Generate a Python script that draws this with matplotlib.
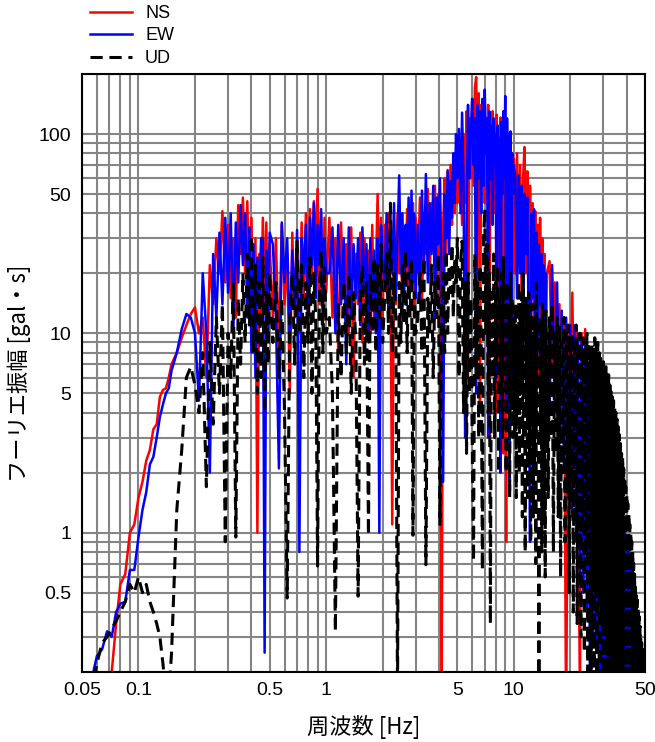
import matplotlib
matplotlib.use("Agg")
import matplotlib.pyplot as plt
from matplotlib.ticker import FixedLocator, NullFormatter

# frequency bands (Hz)
freq_low = [0.056, 0.06, 0.064, 0.068, 0.072, 0.076, 0.08, 0.085, 0.09, 0.095,
            0.1, 0.105, 0.11, 0.115, 0.12, 0.125, 0.13, 0.135, 0.14, 0.145,
            0.15, 0.16, 0.17, 0.18, 0.19, 0.2]
freq_b = [0.21, 0.22, 0.23, 0.24, 0.25, 0.26, 0.27, 0.28, 0.29, 0.30,
          0.31, 0.32, 0.33, 0.34, 0.35, 0.36, 0.37, 0.38, 0.39, 0.40,
          0.41, 0.42, 0.43, 0.44, 0.45, 0.46, 0.47, 0.48, 0.49, 0.50,
          0.52, 0.54, 0.56, 0.58, 0.60, 0.62, 0.64, 0.66, 0.68, 0.70,
          0.72, 0.74, 0.76, 0.78, 0.80, 0.82, 0.84, 0.86, 0.88, 0.90,
          0.92, 0.94, 0.96, 0.98, 1.00]
freq_c = [1.04, 1.08, 1.12, 1.16, 1.20, 1.24, 1.28, 1.32, 1.36, 1.40,
          1.44, 1.48, 1.52, 1.56, 1.60, 1.64, 1.68, 1.72, 1.76, 1.80,
          1.84, 1.88, 1.92, 1.96, 2.00,
          2.05, 2.10, 2.15, 2.20, 2.25, 2.30, 2.35, 2.40, 2.45, 2.50,
          2.55, 2.60, 2.65, 2.70, 2.75, 2.80, 2.85, 2.90, 2.95, 3.00,
          3.08, 3.16, 3.24, 3.32, 3.40, 3.48, 3.56, 3.64, 3.72, 3.80,
          3.88, 3.96, 4.04, 4.12, 4.20, 4.28, 4.36, 4.44, 4.52, 4.60,
          4.68, 4.76, 4.84, 4.92, 5.00]
freq_d1 = [5.1, 5.2, 5.3, 5.4, 5.5, 5.6, 5.7, 5.8, 5.9, 6.0,
           6.1, 6.2, 6.3, 6.4, 6.5, 6.6, 6.7, 6.8, 6.9, 7.0,
           7.1, 7.2, 7.3, 7.4, 7.5, 7.6, 7.7, 7.8, 7.9, 8.0,
           8.1, 8.2, 8.3, 8.4, 8.5, 8.6, 8.7, 8.8, 8.9, 9.0,
           9.1, 9.2, 9.3, 9.4, 9.5, 9.6, 9.7, 9.8, 9.9, 10.0]
freq_d2 = [10.2, 10.4, 10.6, 10.8, 11.0, 11.2, 11.4, 11.6, 11.8, 12.0,
           12.2, 12.4, 12.6, 12.8, 13.0, 13.2, 13.4, 13.6, 13.8, 14.0,
           14.2, 14.4, 14.6, 14.8, 15.0]
freq_e = [15.5, 16.0, 16.5, 17.0, 17.5, 18.0, 18.5, 19.0, 19.5, 20.0,
          20.5, 21.0, 21.5, 22.0, 22.5, 23.0, 23.5, 24.0, 24.5, 25.0,
          25.5, 26.0, 26.5, 27.0, 27.5, 28.0, 28.5, 29.0, 29.5, 30.0,
          30.5, 31.0, 31.5, 32.0, 32.5, 33.0, 33.5, 34.0, 34.5, 35.0,
          35.5, 36.0, 36.5, 37.0, 37.5, 38.0, 38.5, 39.0, 39.5, 40.0,
          40.5, 41.0, 41.5, 42.0, 42.5, 43.0, 43.5, 44.0, 44.5, 45.0,
          45.5, 46.0, 46.5, 47.0, 47.5, 48.0, 48.5, 49.0, 49.5, 50.0]
# finer sampling used for the UD record above 10 Hz
freq_d2_ud = [10.1, 10.2, 10.3, 10.4, 10.5, 10.6, 10.7, 10.8, 10.9, 11.0,
              11.1, 11.2, 11.3, 11.4, 11.5, 11.6, 11.7, 11.8, 11.9, 12.0,
              12.1, 12.2, 12.3, 12.4, 12.5, 12.6, 12.7, 12.8, 12.9, 13.0,
              13.1, 13.2, 13.3, 13.4, 13.5, 13.6, 13.7, 13.8, 13.9, 14.0,
              14.1, 14.2, 14.3, 14.4, 14.5, 14.6, 14.7, 14.8, 14.9, 15.0]
freq_e_ud = [15.25, 15.5, 15.75, 16.0, 16.25, 16.5, 16.75, 17.0, 17.25, 17.5,
             17.75, 18.0, 18.25, 18.5, 18.75, 19.0, 19.25, 19.5, 19.75, 20.0,
             20.25, 20.5, 20.75, 21.0, 21.25, 21.5, 21.75, 22.0, 22.25, 22.5,
             22.75, 23.0, 23.25, 23.5, 23.75, 24.0, 24.25, 24.5, 24.75, 25.0,
             25.25, 25.5, 25.75, 26.0, 26.25, 26.5, 26.75, 27.0, 27.25, 27.5,
             27.75, 28.0, 28.25, 28.5, 28.75, 29.0, 29.25, 29.5, 29.75, 30.0,
             30.25, 30.5, 30.75, 31.0, 31.25, 31.5, 31.75, 32.0, 32.25, 32.5,
             32.75, 33.0, 33.25, 33.5, 33.75, 34.0, 34.25, 34.5, 34.75, 35.0,
             35.25, 35.5, 35.75, 36.0, 36.25, 36.5, 36.75, 37.0, 37.25, 37.5,
             37.75, 38.0, 38.25, 38.5, 38.75, 39.0, 39.25, 39.5, 39.75, 40.0,
             40.25, 40.5, 40.75, 41.0, 41.25, 41.5, 41.75, 42.0, 42.25, 42.5,
             42.75, 43.0, 43.25, 43.5, 43.75, 44.0, 44.25, 44.5, 44.75, 45.0,
             45.25, 45.5, 45.75, 46.0, 46.25, 46.5, 46.75, 47.0, 47.25, 47.5,
             47.75, 48.0, 48.25, 48.5, 48.75, 49.0, 49.25, 49.5, 49.75, 50.0]

# NS component (gal*s)
ns_low = [0.1, 0.1, 0.12, 0.15, 0.2, 0.35, 0.55, 0.62, 1.0, 1.1,
          1.5, 1.8, 2.3, 2.6, 3.3, 3.5, 4.8, 5.2, 5.3, 6.0,
          7.0, 8.0, 9.5, 11.0, 12.5, 13.5]
ns_b = [10, 12, 6, 22, 14, 30, 20, 41, 18, 35,
        15, 30, 12, 44, 25, 48, 20, 46, 15, 38,
        8, 30, 1.0, 25, 12, 38, 14, 36, 10, 28,
        12, 30, 8, 35, 14, 25, 5, 32, 12, 30,
        10, 36, 15, 40, 10, 42, 18, 46, 25, 53,
        14, 40, 10, 38, 16]
ns_c = [38, 12, 30, 8, 36, 15, 28, 10, 34, 6,
        25, 14, 32, 9, 30, 12, 26, 10, 35, 11,
        20, 50, 15, 38, 12,
        35, 16, 40, 18, 1.1, 30, 14, 40, 20, 36,
        12, 30, 18, 42, 15, 35, 20, 45, 12, 38,
        20, 48, 14, 40, 25, 53, 18, 45, 30, 55,
        15, 50, 22, 0.1, 35, 60, 25, 66, 30, 70,
        35, 60, 40, 75, 45]
ns_d1 = [50, 90, 35, 100, 45, 130, 6, 120, 60, 150,
         55, 170, 193, 80, 160, 4, 140, 70, 130, 45,
         120, 60, 140, 3, 110, 55, 130, 40, 100, 60,
         125, 4, 110, 50, 121, 45, 100, 2.5, 95, 40,
         0.9, 90, 35, 100, 3, 85, 40, 80, 20, 75]
ns_d2 = [20, 80, 25, 70, 15, 60, 86, 20, 65, 12,
         55, 18, 45, 8, 41, 14, 35, 6, 38, 10,
         30, 5, 25, 9, 20]
ns_e = [23, 6, 18, 4, 14, 3, 12, 0.1, 11, 5,
        16, 3, 11, 2, 0.15, 10, 2, 10.5, 1.5, 7,
        1, 6, 0.8, 5.5, 0.6, 5, 0.5, 4.5, 0.4, 4,
        0.35, 3.6, 0.3, 3.2, 0.25, 2.8, 0.2, 2.6, 0.2, 2.2,
        0.15, 1.9, 0.15, 1.6, 0.12, 1.4, 0.12, 1.2, 0.1, 0.95,
        0.1, 0.8, 0.1, 0.65, 0.1, 0.5, 0.1, 0.42, 0.1, 0.34,
        0.1, 0.28, 0.1, 0.24, 0.1, 0.2, 0.1, 0.18, 0.1, 0.16]

# EW component
ew_low = [0.18, 0.24, 0.26, 0.32, 0.3, 0.4, 0.44, 0.45, 0.65, 0.65,
          0.95, 1.3, 1.6, 2.2, 2.4, 3.0, 3.8, 4.4, 5.0, 5.3,
          6.5, 8.0, 10.5, 12.5, 12.0, 10.0]
ew_b = [4.6, 20, 10, 2.0, 25, 12, 32, 14, 38, 16,
        40, 10, 36, 18, 44, 22, 40, 12, 34, 8,
        28, 6, 24, 14, 30, 30, 0.25, 26, 10, 32,
        28, 12, 2.1, 36, 18, 30, 9, 26, 14, 33,
        0.8, 30, 20, 35, 12, 38, 22, 45, 15, 35,
        22, 42, 12, 30, 20]
ew_c = [20, 34, 10, 35, 14, 30, 7, 34, 12, 28,
        15, 30, 11, 34, 16, 28, 9, 30, 14, 26,
        10, 30, 1.0, 35, 22,
        18, 40, 12, 35, 20, 45, 15, 30, 62, 20,
        40, 14, 35, 22, 48, 16, 52, 18, 40, 15,
        35, 15, 52, 20, 63, 18, 45, 25, 55, 12,
        48, 28, 60, 20, 1.8, 50, 30, 65, 25, 58,
        38, 80, 45, 100, 60]
ew_d1 = [106, 40, 128, 55, 3, 35, 140, 60, 100, 150,
         70, 120, 5, 140, 60, 130, 40, 150, 55, 167,
         80, 120, 3, 130, 60, 110, 35, 120, 70, 100,
         6, 110, 60, 95, 2, 115, 50, 130, 60, 155,
         4, 120, 55, 100, 1.8, 103, 5, 80, 50, 70]
ew_d2 = [60, 15, 62, 20, 55, 8, 50, 25, 48, 10,
         0.9, 40, 15, 42, 12, 32, 8, 28, 14, 25,
         6, 22, 10, 20, 4]
ew_e = [4, 22, 5, 18, 3, 13, 2, 12, 1.5, 11,
        1.2, 11, 0.9, 10, 0.6, 9.5, 0.5, 9, 0.4, 7,
        0.1, 6, 0.3, 5.5, 0.25, 5, 0.1, 4.5, 0.2, 4,
        0.2, 3.6, 0.15, 3.2, 0.15, 2.8, 0.12, 2.5, 0.12, 2.2,
        0.1, 1.9, 0.1, 1.6, 0.1, 1.4, 0.1, 1.2, 0.1, 0.95,
        0.1, 0.8, 0.1, 0.65, 0.1, 0.52, 0.1, 0.42, 0.1, 0.35,
        0.1, 0.29, 0.1, 0.24, 0.1, 0.2, 0.1, 0.18, 0.1, 0.16]

# UD component
ud_low = [0.15, 0.22, 0.28, 0.3, 0.33, 0.36, 0.4, 0.45, 0.55, 0.5,
          0.6, 0.5, 0.55, 0.45, 0.4, 0.35, 0.3, 0.22, 0.15, 0.15,
          0.25, 1.3, 2.6, 6.0, 6.8, 5.5]
ud_b = [4, 8, 1.7, 9, 3.5, 12, 5, 14, 0.9, 10,
        6, 18, 0.95, 15, 7, 20, 9, 25, 11, 31,
        8, 22, 5, 18, 6, 24, 4, 16, 7, 20,
        9, 18, 6, 15, 4, 0.47, 12, 20, 7, 29,
        10, 22, 6, 18, 9, 24, 5, 20, 12, 0.68,
        15, 26, 8, 22, 10]
ud_c = [12, 5, 0.32, 14, 6, 18, 8, 20, 5, 16,
        9, 0.48, 15, 22, 7, 18, 0.97, 20, 10, 24,
        8, 22, 12, 28, 9,
        15, 25, 10, 45, 8, 20, 12, 0.15, 18, 9,
        22, 11, 26, 8, 20, 12, 24, 0.97, 16, 10,
        12, 20, 8, 24, 0.69, 15, 10, 22, 6, 18,
        12, 25, 1.1, 14, 20, 8, 26, 10, 22, 16,
        28, 12, 24, 18, 30]
ud_d1 = [6, 22, 29, 4, 18, 2.5, 20, 5, 15, 3,
         0.72, 25, 6, 18, 3, 22, 8, 0.65, 30, 42,
         10, 28, 4, 20, 0.35, 16, 6, 25, 3, 18,
         7, 22, 2, 15, 5, 20, 3, 24, 6, 16,
         2, 18, 5, 14, 1.5, 20, 4, 15, 3, 12]
ud_d2 = [3, 14, 1.5, 10, 4, 18, 2, 12, 5, 16,
         1.2, 20, 3, 11, 0.8, 15, 4, 13, 1.5, 16,
         2.5, 12, 0.9, 14, 3.5, 10, 1.2, 14, 2, 12,
         0.7, 18, 3, 11, 2.5, 0.1, 1.5, 12, 3, 10,
         0.8, 14, 2.2, 9, 1.1, 11, 0.6, 13, 2.8, 10]
ud_e = [1.5, 12, 3.0, 14, 0.8, 10, 2.5, 12, 1.2, 11,
        0.6, 9, 2.0, 12, 0.9, 10, 1.6, 11, 0.5, 9.5,
        1.4, 10, 0.4, 8.5, 1.1, 11, 0.35, 9, 0.9, 10,
        0.3, 8, 1.0, 9.5, 0.25, 8.5, 0.7, 10, 0.2, 9,
        0.8, 8.5, 0.15, 9, 0.6, 8, 0.12, 9.5, 0.5, 8.5,
        0.1, 9, 0.45, 8, 0.1, 7.5, 0.4, 7, 0.1, 7.2,
        0.35, 6.5, 0.1, 6.8, 0.3, 6, 0.1, 6.2, 0.25, 5.5,
        0.1, 5.2, 0.22, 4.8, 0.1, 4.6, 0.2, 4.2, 0.1, 4.0,
        0.18, 3.7, 0.1, 3.4, 0.15, 3.1, 0.1, 2.8, 0.12, 2.5,
        0.1, 2.4, 0.12, 2.1, 0.1, 1.9, 0.1, 1.7, 0.1, 1.55,
        0.1, 1.4, 0.1, 1.25, 0.1, 1.1, 0.1, 1.0, 0.1, 0.9,
        0.1, 0.8, 0.1, 0.7, 0.1, 0.62, 0.1, 0.55, 0.1, 0.5,
        0.1, 0.46, 0.1, 0.42, 0.1, 0.38, 0.1, 0.34, 0.1, 0.3,
        0.1, 0.28, 0.1, 0.26, 0.1, 0.24, 0.1, 0.22, 0.1, 0.21]

freq_h = freq_low + freq_b + freq_c + freq_d1 + freq_d2 + freq_e
freq_v = freq_low + freq_b + freq_c + freq_d1 + freq_d2_ud + freq_e_ud
ns = ns_low + ns_b + ns_c + ns_d1 + ns_d2 + ns_e
ew = ew_low + ew_b + ew_c + ew_d1 + ew_d2 + ew_e
ud = ud_low + ud_b + ud_c + ud_d1 + ud_d2 + ud_e

plt.rcParams['font.family'] = ['Liberation Sans', 'DejaVu Sans']
jp = ['Noto Sans CJK JP', 'DejaVu Sans']

fig = plt.figure(figsize=(6.55, 7.42), dpi=100)
ax = fig.add_axes([82 / 655, 1 - 672 / 742, 563 / 655, 598 / 742])

l_ns, = ax.plot(freq_h, ns, color='#ff0000', lw=1.8, label='NS')
l_ew, = ax.plot(freq_h, ew, color='#0000ff', lw=1.8, label='EW')
l_ud, = ax.plot(freq_v, ud, color='black', lw=2.2, ls=(0, (4.0, 2.2)), label='UD')

ax.set_xscale('log')
ax.set_yscale('log')
ax.set_xlim(0.05, 50)
ax.set_ylim(0.2, 200)

xt = [0.05, 0.1, 0.5, 1, 5, 10, 50]
yt = [0.5, 1, 5, 10, 50, 100]
ax.xaxis.set_major_locator(FixedLocator(xt))
ax.set_xticklabels(['0.05', '0.1', '0.5', '1', '5', '10', '50'])
ax.yaxis.set_major_locator(FixedLocator(yt))
ax.set_yticklabels(['0.5', '1', '5', '10', '50', '100'])
xminor = [m * 10.0 ** e for e in (-2, -1, 0, 1) for m in range(1, 10)]
yminor = [m * 10.0 ** e for e in (-1, 0, 1, 2) for m in range(1, 10)]
ax.xaxis.set_minor_locator(FixedLocator(xminor))
ax.yaxis.set_minor_locator(FixedLocator(yminor))
ax.xaxis.set_minor_formatter(NullFormatter())
ax.yaxis.set_minor_formatter(NullFormatter())
ax.tick_params(which='both', length=0, labelsize=14)
ax.tick_params(axis='x', pad=7)
ax.tick_params(axis='y', pad=8)
ax.grid(True, which='both', color='#858585', lw=1.5)
ax.set_axisbelow(True)
for s in ax.spines.values():
    s.set_linewidth(1.5)

ax.set_xlabel('周波数 [Hz]', family=jp, fontsize=16)
ax.set_ylabel('フーリエ振幅 [gal・s]', family=jp, fontsize=16)
ax.xaxis.set_label_coords(0.5, -0.072)
ax.yaxis.set_label_coords(-0.09, 0.5)

fig.legend(handles=[l_ns, l_ew, l_ud], loc='upper left',
           bbox_to_anchor=(90 / 655, 1 - 5 / 742), frameon=False,
           fontsize=13, handlelength=2.3, handletextpad=0.75,
           labelspacing=0.3, borderpad=0, borderaxespad=0)

fig.savefig('out.png', dpi=100)
